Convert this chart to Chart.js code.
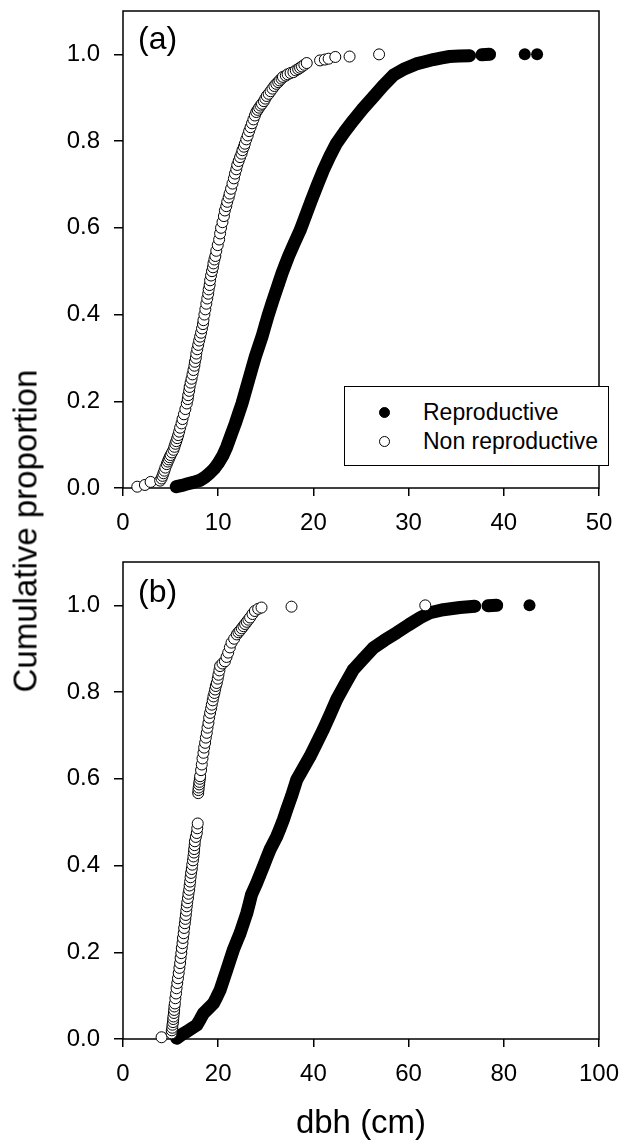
<!DOCTYPE html>
<html>
<head>
<meta charset="utf-8">
<title>Cumulative proportion of dbh</title>
<script src="https://cdn.jsdelivr.net/npm/chart.js@4.4.1/dist/chart.umd.min.js"></script>
<style>
  body { margin: 0; background: #fff; }
  #wrap { position: relative; width: 624px; height: 1143px; overflow: hidden;
          font-family: 'Liberation Sans', Arial, sans-serif; color: #000; }
  canvas { position: absolute; left: 0; }
  #chart-a { top: 0; }
  #chart-b { top: 540px; }
  .tag { position: absolute; left: 138px; font-size: 32px; line-height: 32px; z-index: 2; }
  .ytitle { position: absolute; left: 25px; top: 531px; font-size: 33px; line-height: 33px;
            white-space: nowrap; transform: translate(-50%, -50%) rotate(-90deg); z-index: 2; }
  .xtitle { position: absolute; left: 361px; top: 1105px; font-size: 33px; line-height: 33px;
            white-space: nowrap; transform: translateX(-50%); z-index: 2; }
  .legend { position: absolute; left: 344px; top: 386px; width: 263px; height: 78px;
            border: 1px solid #000; background: #fff; z-index: 3; }
  .legend .row { position: absolute; left: 0; height: 23px; line-height: 23px; font-size: 23px; }
  .legend .dot { position: absolute; left: 34px; top: 6px; width: 11px; height: 11px;
                 border-radius: 50%; box-sizing: border-box; border: 1px solid #000; }
  .legend .txt { position: absolute; left: 78px; top: 0; white-space: nowrap; }
</style>
</head>
<body>
<div id="wrap">
  <canvas id="chart-a" width="624" height="540"></canvas>
  <canvas id="chart-b" width="624" height="603"></canvas>
  <div class="tag" style="top:22px">(a)</div>
  <div class="tag" style="top:575px">(b)</div>
  <div class="ytitle">Cumulative proportion</div>
  <div class="xtitle">dbh (cm)</div>
  <div class="legend">
    <div class="row" style="top:14px"><span class="dot" style="background:#000"></span><span class="txt">Reproductive</span></div>
    <div class="row" style="top:43px"><span class="dot" style="background:#fff"></span><span class="txt">Non reproductive</span></div>
  </div>
</div>
<script>
// panel (a): [dbh, cumulative proportion]
const aReproductive = [
  [5.6, 0.003], [6.2, 0.006], [6.7, 0.009], [7.4, 0.013], [8.1, 0.018], [8.6, 0.025],
  [9.1, 0.034], [9.6, 0.045], [10.0, 0.057], [10.5, 0.075], [10.9, 0.095], [11.35, 0.122],
  [11.8, 0.149], [12.15, 0.172], [12.5, 0.195], [12.85, 0.222], [13.2, 0.249], [13.55, 0.276],
  [13.9, 0.303], [14.25, 0.326], [14.6, 0.349], [14.95, 0.376], [15.3, 0.402], [15.65, 0.426],
  [16.0, 0.449], [16.35, 0.472], [16.7, 0.495], [17.05, 0.515], [17.4, 0.535], [18.0, 0.565],
  [18.6, 0.594], [19.2, 0.629], [19.8, 0.664], [20.4, 0.698], [21.05, 0.733], [21.7, 0.764],
  [22.4, 0.794], [23.3, 0.822], [24.2, 0.848], [25.2, 0.875], [26.3, 0.902], [27.3, 0.927],
  [28.4, 0.952], [29.6, 0.967], [30.8, 0.978], [31.7, 0.983], [32.6, 0.988], [33.5, 0.992],
  [34.3, 0.995], [35.3, 0.996], [36.4, 0.997], [37.7, 0.999], [38.5, 1.0], [42.2, 1.0], [43.5, 1.0]
];
const aNonReproductive = [
  [1.5, 0.003], [2.3, 0.007], [2.9, 0.014], [3.9, 0.017], [4.05, 0.022], [4.15, 0.028],
  [4.25, 0.034], [4.35, 0.040], [4.45, 0.047], [4.6, 0.055], [4.7, 0.061], [4.8, 0.066],
  [4.9, 0.071], [5.0, 0.076], [5.15, 0.082], [5.3, 0.088], [5.4, 0.095], [5.5, 0.102],
  [5.6, 0.108], [5.7, 0.115], [5.8, 0.122], [5.9, 0.130], [6.0, 0.139], [6.15, 0.149],
  [6.25, 0.159], [6.4, 0.170], [6.55, 0.182], [6.7, 0.195], [6.8, 0.205], [6.85, 0.214],
  [6.95, 0.224], [7.0, 0.233], [7.1, 0.243], [7.2, 0.252], [7.3, 0.262], [7.4, 0.272],
  [7.5, 0.282], [7.55, 0.291], [7.65, 0.300], [7.7, 0.310], [7.8, 0.320], [7.9, 0.330],
  [8.0, 0.340], [8.1, 0.349], [8.2, 0.358], [8.3, 0.368], [8.4, 0.378], [8.45, 0.387],
  [8.55, 0.400], [8.65, 0.412], [8.75, 0.425], [8.85, 0.437], [8.95, 0.448], [9.0, 0.458],
  [9.1, 0.468], [9.15, 0.479], [9.25, 0.490], [9.35, 0.500], [9.45, 0.509], [9.5, 0.518],
  [9.6, 0.527], [9.7, 0.535], [9.8, 0.547], [9.95, 0.560], [10.1, 0.573], [10.2, 0.587],
  [10.3, 0.600], [10.45, 0.613], [10.6, 0.627], [10.7, 0.640], [10.85, 0.650], [10.95, 0.660],
  [11.1, 0.670], [11.2, 0.679], [11.35, 0.690], [11.5, 0.702], [11.65, 0.714], [11.76, 0.725],
  [11.9, 0.735], [12.0, 0.745], [12.15, 0.754], [12.3, 0.763], [12.45, 0.771], [12.55, 0.779],
  [12.7, 0.787], [12.8, 0.794], [12.95, 0.804], [13.1, 0.813], [13.25, 0.823], [13.4, 0.832],
  [13.55, 0.841], [13.7, 0.850], [13.85, 0.859], [14.0, 0.867], [14.15, 0.872], [14.3, 0.877],
  [14.45, 0.882], [14.6, 0.886], [14.8, 0.892], [14.95, 0.898], [15.1, 0.904], [15.3, 0.909],
  [15.5, 0.915], [15.7, 0.921], [15.9, 0.927], [16.1, 0.932], [16.3, 0.936], [16.45, 0.940],
  [16.65, 0.944], [16.8, 0.948], [17.1, 0.951], [17.3, 0.954], [17.6, 0.957], [17.9, 0.959],
  [18.15, 0.963], [18.4, 0.966], [18.6, 0.969], [18.8, 0.972], [19.05, 0.976], [19.3, 0.980],
  [20.7, 0.986], [21.2, 0.988], [21.6, 0.990], [22.3, 0.994], [23.8, 0.995], [26.9, 1.0]
];

// panel (b)
const bReproductive = [
  [11.3, 0.002], [12.3, 0.010], [13.4, 0.017], [14.5, 0.025], [15.5, 0.032], [16.2, 0.045],
  [16.9, 0.059], [17.9, 0.070], [19.0, 0.082], [19.7, 0.097], [20.4, 0.113], [21.1, 0.136],
  [21.8, 0.159], [22.5, 0.183], [23.2, 0.206], [23.9, 0.225], [24.6, 0.244], [25.3, 0.267],
  [26.0, 0.290], [26.5, 0.311], [27.0, 0.333], [28.1, 0.360], [28.8, 0.379], [29.5, 0.398],
  [30.2, 0.418], [30.9, 0.437], [31.6, 0.452], [32.3, 0.467], [33.0, 0.486], [33.7, 0.506],
  [34.4, 0.529], [35.4, 0.560], [36.5, 0.598], [37.9, 0.625], [39.3, 0.652], [40.7, 0.683],
  [42.1, 0.714], [43.5, 0.748], [44.9, 0.783], [46.6, 0.817], [48.4, 0.852], [50.5, 0.877],
  [52.6, 0.902], [55.0, 0.920], [57.5, 0.937], [60.0, 0.955], [62.5, 0.972], [64.5, 0.983],
  [67.3, 0.990], [70.8, 0.995], [73.9, 0.998], [76.7, 0.999], [78.5, 1.0], [85.4, 1.0]
];
const bNonReproductive = [
  [8.1, 0.004], [10.2, 0.013], [10.25, 0.020], [10.35, 0.026], [10.4, 0.033], [10.5, 0.039],
  [10.55, 0.046], [10.6, 0.052], [10.7, 0.060], [10.75, 0.067], [10.8, 0.075], [10.9, 0.082],
  [11.0, 0.094], [11.15, 0.105], [11.25, 0.117], [11.4, 0.129], [11.55, 0.140], [11.7, 0.152],
  [11.85, 0.164], [12.0, 0.175], [12.1, 0.187], [12.25, 0.198], [12.35, 0.210], [12.5, 0.221],
  [12.6, 0.233], [12.75, 0.244], [12.85, 0.256], [13.0, 0.267], [13.1, 0.277], [13.2, 0.286],
  [13.3, 0.296], [13.4, 0.306], [13.5, 0.315], [13.65, 0.325], [13.75, 0.335], [13.9, 0.344],
  [14.0, 0.354], [14.1, 0.363], [14.2, 0.373], [14.3, 0.383], [14.45, 0.392], [14.55, 0.402],
  [14.7, 0.412], [14.8, 0.421], [14.9, 0.430], [14.95, 0.438], [15.05, 0.447], [15.1, 0.456],
  [15.3, 0.466], [15.5, 0.475], [15.6, 0.486], [15.7, 0.497], [15.8, 0.567], [15.85, 0.574],
  [15.9, 0.580], [16.0, 0.587], [16.05, 0.593], [16.15, 0.600], [16.2, 0.606], [16.4, 0.620],
  [16.55, 0.633], [16.7, 0.647], [16.9, 0.660], [17.05, 0.672], [17.25, 0.683], [17.4, 0.695],
  [17.6, 0.706], [17.75, 0.718], [17.95, 0.729], [18.1, 0.741], [18.3, 0.752], [18.5, 0.762],
  [18.65, 0.771], [18.85, 0.781], [19.0, 0.790], [19.2, 0.798], [19.35, 0.806], [19.5, 0.814],
  [19.7, 0.821], [19.9, 0.831], [20.05, 0.840], [20.25, 0.850], [20.4, 0.860], [20.9, 0.866],
  [21.4, 0.871], [21.75, 0.881], [22.1, 0.891], [22.45, 0.903], [22.8, 0.914], [23.35, 0.923],
  [23.9, 0.933], [24.25, 0.938], [24.6, 0.942], [24.95, 0.947], [25.3, 0.952], [25.65, 0.957],
  [26.0, 0.962], [26.35, 0.967], [26.7, 0.972], [27.2, 0.980], [27.7, 0.987], [28.4, 0.992],
  [29.1, 0.995], [35.4, 0.997], [63.5, 1.0]
];

const yTicks = [0, 0.2, 0.4, 0.6, 0.8, 1.0];
const aXTicks = [0, 10, 20, 30, 40, 50];
const bXTicks = [0, 20, 40, 60, 80, 100];

const FONT = "'Liberation Sans', Arial, sans-serif";

// box around the plot area
const framePlugin = {
  id: 'frame',
  beforeDatasetsDraw(chart) {
    const { ctx, chartArea: a } = chart;
    ctx.save();
    ctx.strokeStyle = '#000';
    ctx.lineWidth = 1.5;
    ctx.strokeRect(a.left, a.top, a.right - a.left, a.bottom - a.top);
    ctx.restore();
  }
};

const toPoints = (pairs) => pairs.map(([x, y]) => ({ x, y }));

// filled markers overlap into a solid band; the loose points in the flat
// tail (and any wide jump) stay as separate dots
function tailGapHider(pairs) {
  return (ctx) => {
    const dist = Math.hypot(ctx.p1.x - ctx.p0.x, ctx.p1.y - ctx.p0.y);
    const y0 = pairs[ctx.p0DataIndex][1];
    const y1 = pairs[ctx.p1DataIndex][1];
    const inTail = y0 >= 0.997 && y1 >= 0.997;
    return dist > 30 || (inTail && dist > 11) ? 'rgba(0,0,0,0)' : undefined;
  };
}

function makeChart(canvasId, repro, nonRepro, xMax, xTicks, area, height) {
  const canvas = document.getElementById(canvasId);
  return new Chart(canvas, {
    type: 'scatter',
    data: {
      datasets: [
        {
          label: 'Non reproductive',
          data: toPoints(nonRepro),
          showLine: false,
          pointRadius: 5.5,
          pointBackgroundColor: '#fff',
          pointBorderColor: '#000',
          pointBorderWidth: 1,
          clip: false,
          order: 1,
        },
        {
          label: 'Reproductive',
          data: toPoints(repro),
          showLine: true,
          borderColor: '#000',
          borderWidth: 13,
          borderCapStyle: 'round',
          borderJoinStyle: 'round',
          tension: 0,
          pointRadius: 6,
          pointBackgroundColor: '#000',
          pointBorderColor: '#000',
          pointBorderWidth: 0,
          segment: { borderColor: tailGapHider(repro) },
          clip: false,
          order: 2,
        },
      ],
    },
    options: {
      responsive: false,
      animation: false,
      events: [],
      layout: { padding: { top: area.top, right: 624 - area.right, left: 0, bottom: 0 } },
      plugins: { legend: { display: false }, tooltip: { enabled: false } },
      scales: {
        x: {
          type: 'linear',
          min: 0,
          max: xMax,
          afterBuildTicks: (s) => { s.ticks = xTicks.map((v) => ({ value: v })); },
          afterFit: (s) => { s.height = height - area.bottom; s.paddingLeft = 0; s.paddingRight = 0; },
          border: { display: false },
          grid: { drawOnChartArea: false, drawTicks: true, tickLength: 8, color: '#000', lineWidth: 1.5 },
          ticks: { color: '#000', font: { family: FONT, size: 24 }, padding: 13, maxRotation: 0, autoSkip: false },
        },
        y: {
          type: 'linear',
          min: 0,
          max: 1.1,
          afterBuildTicks: (s) => { s.ticks = yTicks.map((v) => ({ value: v })); },
          afterFit: (s) => { s.width = area.left; s.paddingTop = 0; s.paddingBottom = 0; },
          border: { display: false },
          grid: { drawOnChartArea: false, drawTicks: true, tickLength: 9, color: '#000', lineWidth: 1.5 },
          ticks: { color: '#000', font: { family: FONT, size: 24 }, padding: 14, callback: (v) => v.toFixed(1) },
        },
      },
    },
    plugins: [framePlugin],
  });
}

makeChart('chart-a', aReproductive, aNonReproductive, 50, aXTicks,
  { left: 123, right: 599, top: 11, bottom: 488 }, 540);
makeChart('chart-b', bReproductive, bNonReproductive, 100, bXTicks,
  { left: 123, right: 599, top: 22, bottom: 499 }, 603);
</script>
</body>
</html>
